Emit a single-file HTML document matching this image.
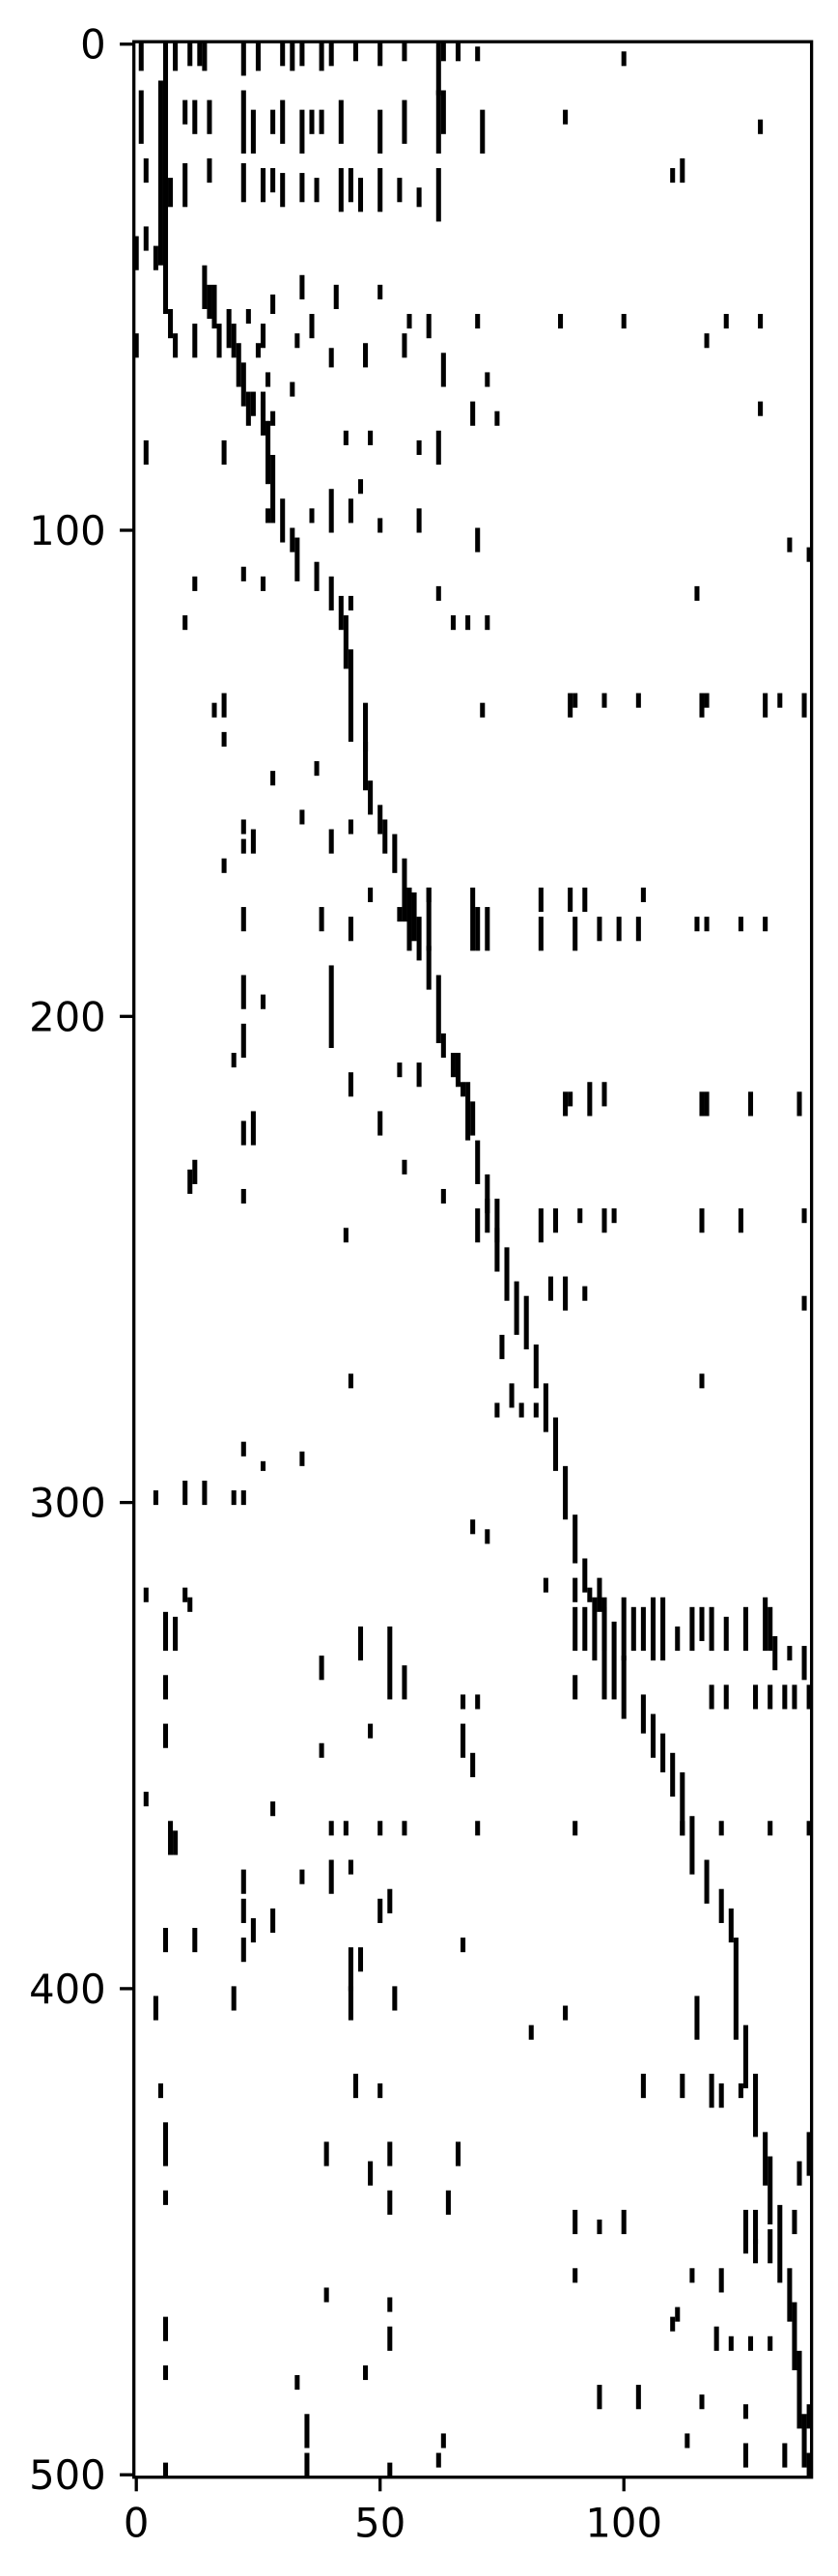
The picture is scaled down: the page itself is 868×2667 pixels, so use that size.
<!DOCTYPE html>
<html><head><meta charset="utf-8"><style>
html,body{margin:0;padding:0;background:#fff;}
svg{display:block;}
text{font-family:"DejaVu Sans","Liberation Sans",sans-serif;font-size:41.7px;fill:#000;}
</style></head><body>
<svg id="chart" width="868" height="2667" viewBox="0 0 868 2667" xmlns="http://www.w3.org/2000/svg">
<g id="marks"></g>
<g id="axes"></g>
</svg>
<script>
const nRows = 501;
const nCols = 139;
const xTicks = [0, 50, 100];
const yTicks = [0, 100, 200, 300, 400, 500];
// diagonal band segments: column, start row, end row
const diagCols = [6,5,7,14,15,19,20,21,22,23,26,27,28,30,32,33,37,40,42,43,44,47,48,50,51,53,55,57,58,60,62,63,66,68,69,70,72,74,76,78,80,82,84,86,88,90,92,95,96,98,100,104,106,108,110,112,114,117,120,122,123,125,127,129,130,132,134,135,136,137,138];
const diagStart = [0,8,55,46,50,55,58,62,66,72,74,78,85,94,100,102,107,110,114,118,125,136,152,157,160,163,168,175,180,186,192,204,208,214,218,226,233,238,248,255,258,268,276,283,293,303,312,316,320,325,332,340,344,348,352,356,365,374,380,384,390,408,418,430,435,445,458,465,475,488,496];
const diagEnd = [55,45,60,54,56,62,64,70,74,78,80,90,98,102,104,110,112,116,120,128,143,153,158,162,166,170,180,184,188,194,205,208,214,225,224,234,240,252,258,265,268,276,285,293,303,312,318,322,330,340,344,347,352,355,360,368,376,382,386,390,410,420,430,440,448,460,468,478,490,498,501];
// scattered nonzeros: column, start row, end row
const dotCols = [1,8,11,13,14,22,25,30,32,34,38,40,45,50,55,62,63,66,70,100,
1,10,12,15,22,24,28,30,34,36,38,42,50,55,62,63,71,88,128,
2,7,10,15,22,26,28,30,34,37,42,44,46,50,54,58,62,110,112,
0,2,4,16,23,26,28,34,36,41,50,56,60,70,87,100,121,128,
0,8,12,17,25,27,33,40,47,55,63,72,74,2,18,24,26,28,32,43,48,58,62,69,117,128,
22,27,36,40,44,46,50,58,70,12,26,44,62,65,68,72,134,138,115,10,
16,18,18,37,34,28,22,24,40,44,18,22,47,71,89,90,96,103,116,117,129,132,137,
56,60,69,70,72,83,83,89,92,90,95,99,104,103,115,117,124,129,22,38,44,48,54,60,
40,22,26,22,20,44,54,58,65,67,88,89,93,96,116,117,126,136,50,22,24,12,11,22,43,63,55,
70,72,74,83,86,91,96,98,116,124,137,85,88,92,137,75,44,116,77,79,82,74,22,26,34,14,4,10,20,22,
69,72,84,90,93,2,10,11,6,8,90,92,94,96,100,102,104,106,108,111,114,116,118,121,125,129,130,131,134,137,52,46,55,38,6,6,48,67,70,90,118,121,127,130,133,135,138,38,67,69,
2,28,7,8,40,43,50,55,70,90,112,120,130,138,22,40,44,52,50,34,22,28,6,12,22,24,44,46,67,
4,20,44,53,88,81,115,5,45,50,104,112,118,120,124,6,
39,52,66,48,138,136,6,52,64,90,95,100,125,127,135,127,130,90,114,120,39,52,6,52,110,111,119,122,126,130,6,33,47,95,103,116,125,113,35,35,62,63,125,133,6,52,138];
const dotStart = [0,0,0,0,0,0,0,0,0,0,0,0,0,0,0,0,0,0,1,2,
10,12,12,12,10,14,14,12,14,14,14,12,14,12,10,10,14,14,16,
24,28,25,24,25,26,26,27,27,28,26,26,28,26,28,30,26,26,24,
40,38,42,50,55,58,52,48,56,50,50,56,56,56,56,56,56,56,
60,60,58,58,62,68,60,63,62,60,64,68,76,82,82,72,72,76,70,80,80,82,80,74,60,74,
108,96,96,92,94,90,98,96,100,110,110,114,112,118,118,118,102,104,112,118,
136,134,142,148,158,150,164,162,162,160,168,160,144,136,134,134,134,134,134,134,134,134,134,
174,174,174,178,178,174,180,174,174,180,180,180,174,180,180,180,180,180,178,178,180,174,178,174,
190,192,196,202,208,212,210,210,208,214,216,216,214,214,216,216,216,216,220,222,220,230,232,236,244,236,230,
240,238,244,240,240,240,240,240,240,240,240,254,254,256,258,266,274,274,276,280,280,280,288,292,290,296,298,296,298,298,
304,306,316,316,318,318,318,320,323,324,322,322,320,322,320,322,322,320,320,326,322,322,322,324,322,320,322,328,330,330,326,326,334,332,336,346,346,340,340,336,338,338,338,338,338,338,338,350,346,352,
360,362,366,368,366,366,366,366,366,366,366,366,366,366,376,374,374,380,382,376,382,384,388,388,390,386,392,392,390,
402,400,400,400,404,408,402,420,418,420,418,418,418,420,420,428,
432,432,432,436,430,436,442,442,442,446,448,446,446,446,446,452,450,458,458,458,462,464,468,470,468,466,470,472,472,472,478,480,478,482,482,484,486,492,488,496,496,492,494,494,498,498,486];
const dotEnd = [5,5,4,4,5,6,5,4,5,4,5,4,3,4,3,10,3,3,3,4,
20,16,18,18,22,22,18,20,22,18,18,20,22,20,22,18,22,16,18,
28,33,33,28,32,32,30,33,32,32,34,32,34,34,32,33,36,28,28,
46,42,46,58,57,62,55,52,60,54,52,58,60,58,58,58,58,58,
64,64,64,64,64,70,62,66,66,64,70,70,78,86,86,76,76,78,72,82,82,84,86,78,62,76,
110,98,98,100,98,92,100,100,104,112,112,116,114,120,120,120,104,106,114,120,
138,138,144,150,160,152,166,166,166,162,170,162,145,138,138,136,136,136,138,136,138,136,138,
186,186,186,186,186,178,186,178,178,186,184,184,176,184,182,182,182,182,182,182,184,176,180,176,
206,198,198,208,210,216,212,214,212,216,220,218,220,218,220,220,220,220,224,226,226,234,236,238,246,238,232,
246,244,246,246,244,242,244,242,244,244,242,258,260,258,260,270,276,276,280,282,282,282,290,293,292,300,300,300,300,300,
306,308,318,320,320,320,320,322,330,330,330,330,332,340,332,330,330,332,332,330,330,328,330,330,330,330,330,334,332,336,340,332,340,336,340,350,348,342,342,340,342,342,342,342,342,342,342,352,352,356,
362,364,372,372,368,368,368,368,368,368,368,368,368,368,380,380,376,384,386,378,386,388,392,392,394,390,400,396,392,
406,404,406,404,406,410,410,422,422,422,422,422,424,424,422,436,
436,436,436,440,438,440,444,446,446,450,450,450,454,452,450,456,456,460,460,462,464,466,472,474,470,468,474,474,474,474,480,482,480,486,486,486,488,494,494,500,498,494,498,498,500,501,490];

const X0 = 141.2, SX = 5.05, Y0 = 45.7, SY = 5.033;
function xScale(c){ return X0 + c*SX; }
function yScale(r){ return Y0 + r*SY; }
const NS = 'http://www.w3.org/2000/svg';
const marksG = document.getElementById('marks');
function addSeg(c, r0, r1, name){
  if (c === undefined || r0 === undefined || r1 === undefined) return;
  const el = document.createElementNS(NS,'rect');
  el.setAttribute('x', xScale(c-0.5));
  el.setAttribute('y', yScale(r0-0.5));
  el.setAttribute('width', SX);
  el.setAttribute('height', Math.max(1, r1-r0+1)*SY);
  el.setAttribute('fill', '#000');
  
  
  marksG.appendChild(el);
}
for (let i=0;i<diagCols.length;i++) addSeg(diagCols[i], diagStart[i], Math.min(diagEnd[i], nRows-1), 'diagonal-segment');
for (let i=0;i<dotCols.length;i++) addSeg(dotCols[i], dotStart[i], Math.min(dotEnd[i], nRows-1), 'nonzero-entry');

const axesG = document.getElementById('axes');
const pL = xScale(-0.5), pR = xScale(nCols-0.5), pT = yScale(-0.5), pB = yScale(nRows-0.5);
const frame = document.createElementNS(NS,'rect');
frame.setAttribute('x', pL); frame.setAttribute('y', pT);
frame.setAttribute('width', pR-pL); frame.setAttribute('height', pB-pT);
frame.setAttribute('fill','none'); frame.setAttribute('stroke','#000'); frame.setAttribute('stroke-width','3.3');


axesG.appendChild(frame);
for (const t of xTicks){
  const x = xScale(t);
  const ln = document.createElementNS(NS,'line');
  ln.setAttribute('x1',x); ln.setAttribute('x2',x); ln.setAttribute('y1',pB); ln.setAttribute('y2',pB+14.6);
  ln.setAttribute('stroke','#000'); ln.setAttribute('stroke-width','3.3');
  
  
  axesG.appendChild(ln);
  const tx = document.createElementNS(NS,'text');
  tx.setAttribute('x',x); tx.setAttribute('y',pB+62); tx.setAttribute('text-anchor','middle');
  tx.textContent = t;
  
  
  axesG.appendChild(tx);
}
for (const t of yTicks){
  const y = yScale(t);
  const ln = document.createElementNS(NS,'line');
  ln.setAttribute('x1',pL-14.6); ln.setAttribute('x2',pL); ln.setAttribute('y1',y); ln.setAttribute('y2',y);
  ln.setAttribute('stroke','#000'); ln.setAttribute('stroke-width','3.3');
  
  
  axesG.appendChild(ln);
  const tx = document.createElementNS(NS,'text');
  tx.setAttribute('x',pL-29); tx.setAttribute('y',y+15); tx.setAttribute('text-anchor','end');
  tx.textContent = t;
  
  
  axesG.appendChild(tx);
}
</script>
</body></html>
